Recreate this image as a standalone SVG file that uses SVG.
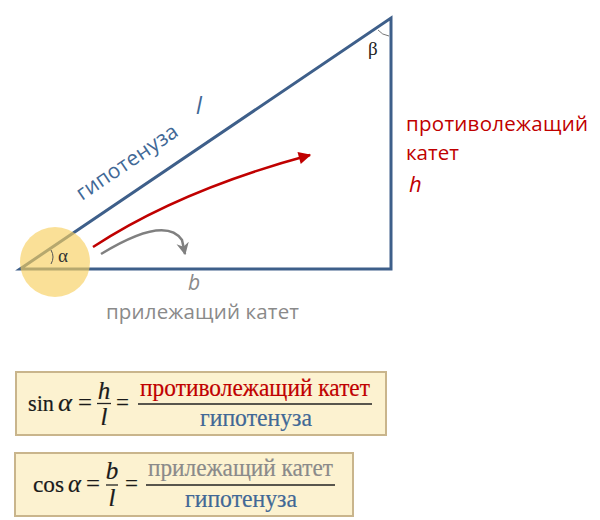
<svg xmlns="http://www.w3.org/2000/svg" width="600" height="520" viewBox="0 0 600 520">
<defs>
<style>
.side{fill:none;stroke:#3e5f8a;stroke-width:3;stroke-linejoin:miter}
.sans{font-family:"Open Sans","Noto Sans","DejaVu Sans",sans-serif}
.serif{font-family:"Liberation Serif","DejaVu Serif",serif;stroke-width:0.2}
.blue{fill:#416896}
.serif.blue{stroke:#416896}
.red{fill:#c00000}
.serif.red{stroke:#c00000}
.gray{fill:#8a8a8a}
.serif.gray{stroke:#8a8a8a}
.ink{fill:#1a1a1a;stroke:#1a1a1a}
.box{fill:#fcf2d0;stroke:#c9b58c;stroke-width:2}
.frac{stroke:#222;stroke-width:1.3}
</style>
<marker id="ar" viewBox="0 0 10 10" refX="9" refY="5" markerWidth="5.5" markerHeight="5" orient="auto" markerUnits="strokeWidth"><path d="M0,0 L10,5 L0,10 z" fill="#c00000"/></marker>
<marker id="ag" viewBox="0 0 10 10" refX="9" refY="5" markerWidth="5" markerHeight="5.5" orient="auto" markerUnits="strokeWidth"><path d="M0,0 L10,5 L0,10 L3,5 z" fill="#808080"/></marker>
</defs>
<rect width="600" height="520" fill="#ffffff"/>
<g id="triangle">
<path class="side" d="M20,269 L391,18 L391,269 Z"/>
<circle cx="55" cy="262" r="35" fill="#f7d060" opacity="0.65"/>
<path d="M51,250 Q55,257 51,264" fill="none" stroke="#555" stroke-width="1"/>
<text x="58" y="262" font-family="Liberation Serif, serif" font-size="19" fill="#333">α</text>
<path d="M378,30 Q382,35 389,36" fill="none" stroke="#777" stroke-width="1"/>
<text x="368" y="55" font-family="Liberation Serif, serif" font-size="19" fill="#222">β</text>
</g>
<g id="labels">
<text class="sans blue" font-size="21" transform="translate(82,201) rotate(-34.1)" textLength="118">гипотенуза</text>
<text x="196" y="114" class="sans blue" font-size="23" font-style="italic">l</text>
<text x="406" y="131" class="sans red" font-size="20.5" textLength="182">противолежащий</text>
<text x="406" y="160" class="sans red" font-size="20.5">катет</text>
<text x="409" y="192" class="sans red" font-size="22" font-style="italic">h</text>
<text x="188" y="290" class="sans gray" font-size="21" font-style="italic">b</text>
<text x="106" y="319" class="sans gray" font-size="20.5" textLength="193">прилежащий катет</text>
</g>
<g id="connectors">
<path d="M93,247 Q180,190 310,155" fill="none" stroke="#c00000" stroke-width="2.5" marker-end="url(#ar)"/>
<path d="M101,254 Q165,215 182,240 L185,254" fill="none" stroke="#808080" stroke-width="2.5" marker-end="url(#ag)"/>
</g>
<g id="sin-formula">
<rect class="box" x="16" y="372" width="370" height="63"/>
<text x="28" y="411" class="serif ink" font-size="24" textLength="26" lengthAdjust="spacingAndGlyphs">sin</text>
<text x="58" y="411" class="serif ink" font-size="25" font-style="italic" textLength="14" lengthAdjust="spacingAndGlyphs">α</text>
<text x="78" y="411" class="serif ink" font-size="26" textLength="14" lengthAdjust="spacingAndGlyphs">=</text>
<text x="104" y="399" class="serif ink" font-size="25" font-style="italic" text-anchor="middle">h</text>
<line class="frac" x1="97" y1="403.5" x2="111" y2="403.5"/>
<text x="104" y="425" class="serif ink" font-size="25" font-style="italic" text-anchor="middle">l</text>
<text x="116" y="411" class="serif ink" font-size="26" textLength="13" lengthAdjust="spacingAndGlyphs">=</text>
<text x="140" y="396" class="serif red" font-size="26" textLength="230" lengthAdjust="spacingAndGlyphs">противолежащий катет</text>
<line class="frac" x1="138" y1="404" x2="372" y2="404"/>
<text x="200" y="426" class="serif blue" font-size="26" textLength="112" lengthAdjust="spacingAndGlyphs">гипотенуза</text>
</g>
<g id="cos-formula">
<rect class="box" x="15" y="453" width="338" height="63"/>
<text x="33" y="492" class="serif ink" font-size="24" textLength="31" lengthAdjust="spacingAndGlyphs">cos</text>
<text x="68" y="492" class="serif ink" font-size="25" font-style="italic" textLength="13" lengthAdjust="spacingAndGlyphs">α</text>
<text x="86" y="492" class="serif ink" font-size="26" textLength="14" lengthAdjust="spacingAndGlyphs">=</text>
<text x="112" y="479" class="serif ink" font-size="25" font-style="italic" text-anchor="middle">b</text>
<line class="frac" x1="106" y1="485" x2="118" y2="485"/>
<text x="112" y="506" class="serif ink" font-size="25" font-style="italic" text-anchor="middle">l</text>
<text x="125" y="492" class="serif ink" font-size="26" textLength="13" lengthAdjust="spacingAndGlyphs">=</text>
<text x="148" y="476" class="serif gray" font-size="26" textLength="185" lengthAdjust="spacingAndGlyphs">прилежащий катет</text>
<line class="frac" x1="146" y1="485" x2="335" y2="485"/>
<text x="185" y="507" class="serif blue" font-size="26" textLength="112" lengthAdjust="spacingAndGlyphs">гипотенуза</text>
</g>
</svg>
